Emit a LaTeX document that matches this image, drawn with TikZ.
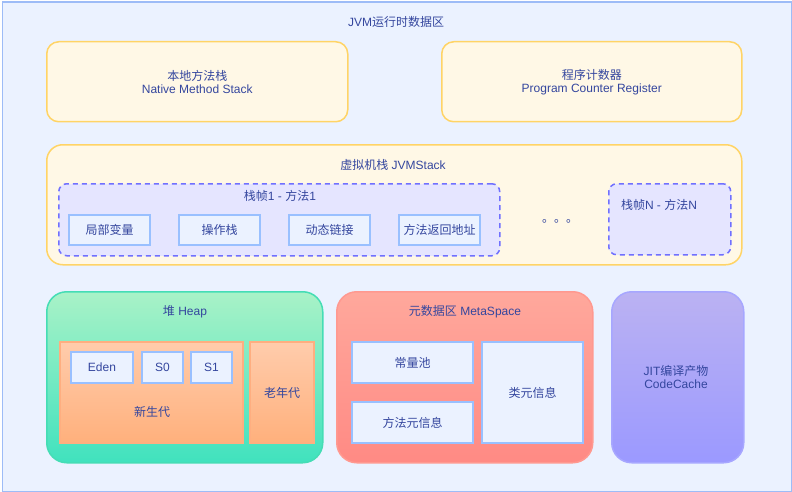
\documentclass[tikz,border=0pt]{standalone}
\usepackage{fontspec}
\setmainfont{Liberation Sans}
\newfontfamily\cjk{Noto Sans CJK SC}
\definecolor{outerfill}{HTML}{EBF2FF}
\definecolor{outerdraw}{HTML}{9DBCF7}
\definecolor{yfill}{HTML}{FFF8E6}
\definecolor{ydraw}{HTML}{FFD466}
\definecolor{framefill}{HTML}{E5E5FF}
\definecolor{framedraw}{HTML}{7070FF}
\definecolor{lbfill}{HTML}{EBF2FF}
\definecolor{lbdraw}{HTML}{99C0FF}
\definecolor{heaptop}{HTML}{A9F2C7}
\definecolor{heapbot}{HTML}{40E2BE}
\definecolor{heapdraw}{HTML}{45DDB5}
\definecolor{youngtop}{HTML}{FFCCAC}
\definecolor{youngbot}{HTML}{FFB07C}
\definecolor{youngdraw}{HTML}{FFAE80}
\definecolor{metatop}{HTML}{FFA89C}
\definecolor{metabot}{HTML}{FF8A84}
\definecolor{metadraw}{HTML}{FF9990}
\definecolor{codetop}{HTML}{BBB2F2}
\definecolor{codebot}{HTML}{9B99FF}
\definecolor{codedraw}{HTML}{A7A7FF}
\definecolor{txt}{HTML}{34469E}
\begin{document}
\begin{tikzpicture}[x=1pt,y=-1pt,
  every node/.style={text=txt,font=\fontsize{12}{14}\selectfont,inner sep=0pt,align=center},
  region/.style={anchor=north west,draw,line width=1.5pt},
  ybox/.style={region,fill=yfill,draw=ydraw,rounded corners=12pt},
  framebox/.style={region,fill=framefill,draw=framedraw,dashed,dash pattern=on 5pt off 4pt,rounded corners=8pt},
  lbbox/.style={region,fill=lbfill,draw=lbdraw,line width=2pt},
  heapbox/.style={region,draw=heapdraw,top color=heaptop,bottom color=heapbot,rounded corners=20pt},
  youngbox/.style={region,draw=youngdraw,top color=youngtop,bottom color=youngbot,line width=2pt},
  metabox/.style={region,draw=metadraw,top color=metatop,bottom color=metabot,rounded corners=20pt},
  codebox/.style={region,draw=codedraw,top color=codetop,bottom color=codebot,rounded corners=20pt},
  lbl/.style={anchor=center}
]
\useasboundingbox (0,0) rectangle (792,492);
\node[region,fill=outerfill,draw=outerdraw,minimum width=789pt,minimum height=489pt] (outer) at (1.5,1.5) {};
\node[lbl] (title) at (396,22) {JVM{\cjk 运行时数据区}};

% native & pc
\node[ybox,minimum width=301pt,minimum height=80pt] (native) at (46,41) {};
\node[lbl] (nativet) at (native.center) {{\cjk 本地方法栈}\\[-1pt]Native Method Stack};
\node[ybox,minimum width=300pt,minimum height=80pt] (pc) at (441,41) {};
\node[lbl] (pct) at (pc.center) {{\cjk 程序计数器}\\[-1pt]Program Counter Register};

% JVM stack
\node[ybox,rounded corners=16pt,minimum width=695pt,minimum height=120pt] (stack) at (46,144) {};
\node[lbl] (stackt) at (393,165) {{\cjk 虚拟机栈} JVMStack};

\node[framebox,minimum width=441pt,minimum height=72pt] (f1) at (58,183) {};
\node[lbl] (f1t) at (280,196) {{\cjk 栈帧}1 - {\cjk 方法}1};
\node[lbbox,minimum width=81pt,minimum height=30pt] (lv) at (68,214) {};
\node[lbl] (lvt) at (lv.center) {\cjk 局部变量};
\node[lbbox,minimum width=81pt,minimum height=30pt] (os) at (178,214) {};
\node[lbl] (ost) at (os.center) {\cjk 操作栈};
\node[lbbox,minimum width=81pt,minimum height=30pt] (dl) at (288,214) {};
\node[lbl] (dlt) at (dl.center) {\cjk 动态链接};
\node[lbbox,minimum width=81pt,minimum height=30pt] (ra) at (398,214) {};
\node[lbl] (rat) at (ra.center) {\cjk 方法返回地址};

\node[lbl] (dots) at (560,221) {\cjk 。。。};

\node[framebox,minimum width=122pt,minimum height=71pt] (fn) at (608,183) {};
\node[lbl] (fnt) at (659,205) {{\cjk 栈帧}N - {\cjk 方法}N};

% heap
\node[heapbox,minimum width=276pt,minimum height=171pt] (heap) at (46,291) {};
\node[lbl] (heapt) at (185,312) {{\cjk 堆} Heap};
\node[youngbox,minimum width=183pt,minimum height=101pt] (young) at (59,341) {};
\node[lbl] (youngt) at (152,412) {\cjk 新生代};
\node[lbbox,minimum width=62pt,minimum height=31pt] (eden) at (70,351) {};
\node[lbl] (edent) at (eden.center) {Eden};
\node[lbbox,minimum width=41pt,minimum height=31pt] (s0) at (141,351) {};
\node[lbl] (s0t) at (s0.center) {S0};
\node[lbbox,minimum width=41pt,minimum height=31pt] (s1) at (190,351) {};
\node[lbl] (s1t) at (s1.center) {S1};
\node[youngbox,minimum width=64pt,minimum height=101pt] (old) at (249,341) {};
\node[lbl] (oldt) at (old.center) {\cjk 老年代};

% metaspace
\node[metabox,minimum width=256pt,minimum height=171pt] (meta) at (336,291) {};
\node[lbl] (metat) at (465,312) {{\cjk 元数据区} MetaSpace};
\node[lbbox,minimum width=121pt,minimum height=41pt] (cp) at (351,341) {};
\node[lbl] (cpt) at (cp.center) {\cjk 常量池};
\node[lbbox,minimum width=121pt,minimum height=41pt] (mm) at (351,401) {};
\node[lbl] (mmt) at (mm.center) {\cjk 方法元信息};
\node[lbbox,minimum width=101pt,minimum height=101pt] (cm) at (481,341) {};
\node[lbl] (cmt) at (cm.center) {\cjk 类元信息};

% code cache
\node[codebox,minimum width=132pt,minimum height=171pt] (code) at (611,291) {};
\node[lbl] (codet) at (676,377) {JIT{\cjk 编译产物}\\[-1pt]CodeCache};
\end{tikzpicture}
\end{document}
